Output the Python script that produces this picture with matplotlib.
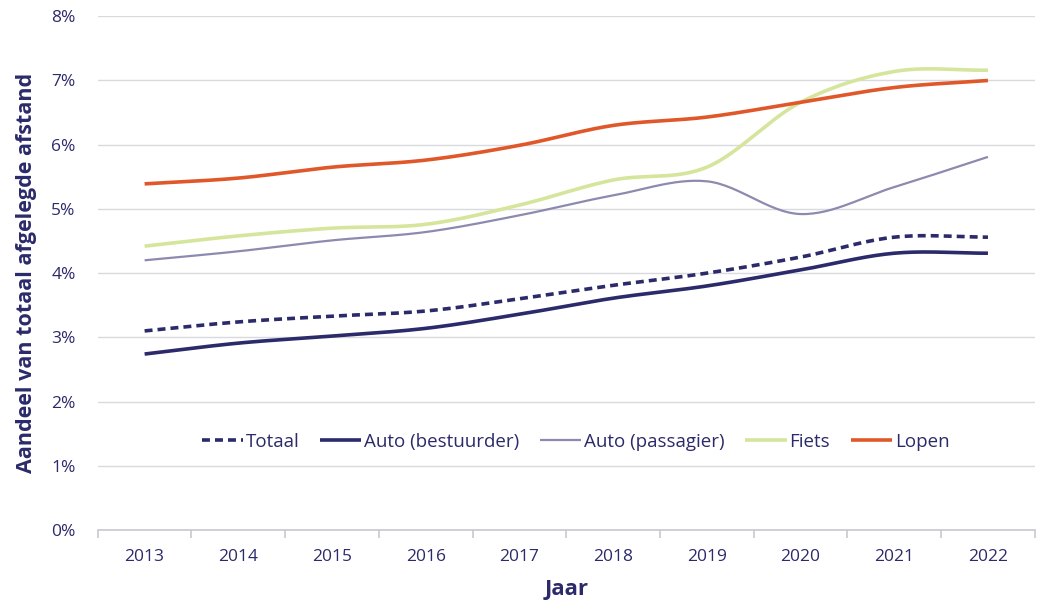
import numpy as np
import matplotlib
matplotlib.use("Agg")
import matplotlib.pyplot as plt
from matplotlib.ticker import FuncFormatter

plt.rcParams['font.family'] = ['Open Sans', 'DejaVu Sans']

years = [2013, 2014, 2015, 2016, 2017, 2018, 2019, 2020, 2021, 2022]
totaal = [3.10, 3.24, 3.33, 3.41, 3.60, 3.81, 4.00, 4.25, 4.56, 4.56]
auto_bestuurder = [2.74, 2.91, 3.02, 3.14, 3.36, 3.61, 3.80, 4.05, 4.31, 4.31]
auto_passagier = [4.20, 4.34, 4.51, 4.64, 4.90, 5.21, 5.43, 4.92, 5.34, 5.81]
fiets = [4.42, 4.58, 4.70, 4.76, 5.06, 5.45, 5.65, 6.66, 7.14, 7.16]
lopen = [5.39, 5.48, 5.65, 5.76, 5.99, 6.30, 6.43, 6.66, 6.89, 7.00]

navy = '#2b2a6a'


def smooth(xs, ys, n=30):
    # Catmull-Rom style smoothing like Excel's smoothed lines
    xs = np.asarray(xs, float)
    ys = np.asarray(ys, float)
    px = np.concatenate([[2 * xs[0] - xs[1]], xs, [2 * xs[-1] - xs[-2]]])
    py = np.concatenate([[2 * ys[0] - ys[1]], ys, [2 * ys[-1] - ys[-2]]])
    outx, outy = [], []
    t = np.linspace(0, 1, n, endpoint=False)
    for i in range(1, len(px) - 2):
        for p, out in ((px, outx), (py, outy)):
            p0, p1, p2, p3 = p[i - 1], p[i], p[i + 1], p[i + 2]
            out.extend(0.5 * ((2 * p1) + (-p0 + p2) * t
                              + (2 * p0 - 5 * p1 + 4 * p2 - p3) * t ** 2
                              + (-p0 + 3 * p1 - 3 * p2 + p3) * t ** 3))
    outx.append(xs[-1])
    outy.append(ys[-1])
    return np.array(outx), np.array(outy)


fig = plt.figure(figsize=(10.4, 6.02), dpi=100)
ax = fig.add_axes([0.094, 0.1196, 0.901, 0.8534])

xpos = np.arange(len(years))
series = [
    ('Totaal', totaal, dict(color=navy, lw=2.6, ls=(0, (2.2, 1.4)))),
    ('Auto (bestuurder)', auto_bestuurder, dict(color=navy, lw=2.6)),
    ('Auto (passagier)', auto_passagier, dict(color='#8d8aaf', lw=1.6)),
    ('Fiets', fiets, dict(color='#d6e59c', lw=2.6)),
    ('Lopen', lopen, dict(color='#e0582a', lw=2.6)),
]
for name, vals, style in series:
    sx, sy = smooth(xpos, vals)
    ax.plot(sx, sy, label=name, solid_capstyle='butt', **style)

ax.set_xlim(-0.5, len(years) - 0.5)
ax.set_ylim(0, 8)
ax.set_yticks(range(0, 9))
ax.yaxis.set_major_formatter(FuncFormatter(lambda v, p: f"{v:.0f}%"))
ax.set_xticks(xpos)
ax.set_xticklabels([str(y) for y in years])
ax.set_xticks(np.arange(-0.5, len(years)), minor=True)

ax.grid(axis='y', color='#d9d9e0', lw=1)
ax.set_axisbelow(True)
for s in ['left', 'right', 'top']:
    ax.spines[s].set_visible(False)
ax.spines['bottom'].set_color('#c8c8d0')
ax.spines['bottom'].set_linewidth(1.2)
ax.tick_params(axis='y', length=0, labelsize=12.5, labelcolor=navy, pad=16)
ax.tick_params(axis='x', which='major', length=0, labelsize=12.5, labelcolor=navy, pad=14)
ax.tick_params(axis='x', which='minor', length=6, color='#c8c8d0', width=1.2)

ax.set_xlabel('Jaar', fontsize=16, fontweight='bold', color=navy, labelpad=10)
ax.set_ylabel('Aandeel van totaal afgelegde afstand', fontsize=15.5,
              fontweight='bold', color=navy, labelpad=10)

leg = ax.legend(loc='center', bbox_to_anchor=(0.51, 0.172), ncol=5, frameon=False,
                fontsize=13.5, handlelength=2.2, handletextpad=0.15, columnspacing=1.1)
for t in leg.get_texts():
    t.set_color(navy)

fig.savefig('out.png', dpi=100)
